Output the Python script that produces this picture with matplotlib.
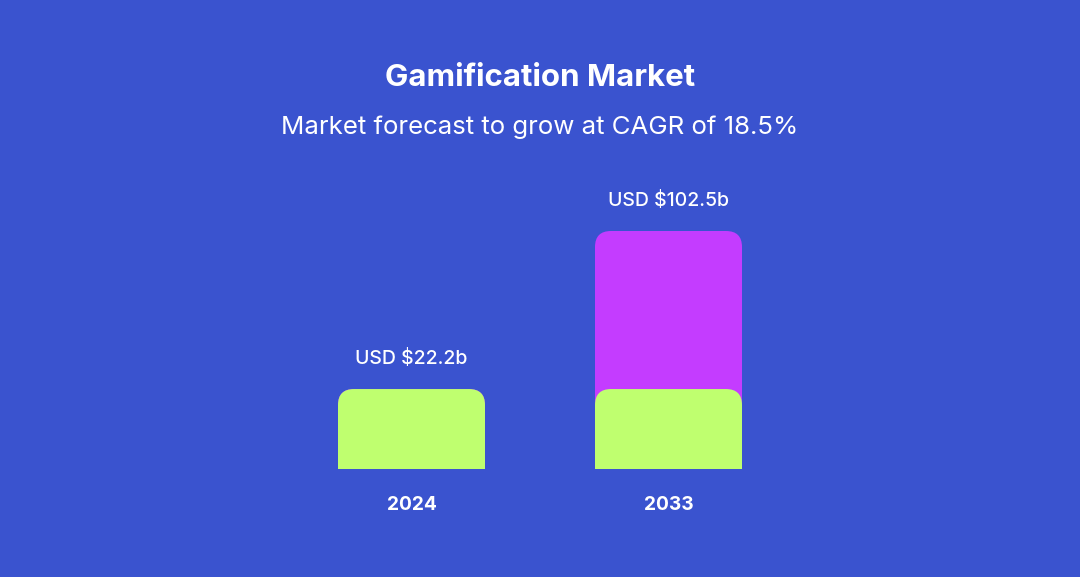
import matplotlib
matplotlib.use("Agg")
import matplotlib.pyplot as plt
import numpy as np
from matplotlib.path import Path
from matplotlib.patches import PathPatch
from matplotlib.transforms import IdentityTransform

### Data ###
years = ["2024", "2033"]
base_values = [22.2, 22.2]        # green part (2024 market size)
total_values = [22.2, 102.5]      # full bar height
value_labels = ["USD $22.2b", "USD $102.5b"]

title = "Gamification Market"
subtitle = "Market forecast to grow at CAGR of 18.5%"

### Style ###
bg = "#3a53cf"
green = "#bfff6f"
purple = "#c43cff"
font = "Inter"
power = 0.713   # compressed value axis, like the original graphic


def rounded_top(fig, bar, color, radius=16):
    # replace a bar by a path with rounded top corners (pixel coords)
    bb = bar.get_window_extent()
    x0, y0, x1, y1 = bb.x0, bb.y0, bb.x1, bb.y1
    r = min(radius, (y1 - y0), (x1 - x0) / 2)
    verts = [(x0, y0), (x0, y1 - r), (x0, y1), (x0 + r, y1),
             (x1 - r, y1), (x1, y1), (x1, y1 - r), (x1, y0), (x0, y0)]
    codes = [Path.MOVETO, Path.LINETO, Path.CURVE3, Path.CURVE3,
             Path.LINETO, Path.CURVE3, Path.CURVE3, Path.LINETO, Path.CLOSEPOLY]
    patch = PathPatch(Path(verts, codes), facecolor=color, edgecolor="none",
                      transform=IdentityTransform(), zorder=bar.get_zorder())
    fig.add_artist(patch)
    bar.set_visible(False)


fig = plt.figure(figsize=(10.8, 5.77), dpi=100, facecolor=bg)

# axes spans pixel x 270..810, y 231..469 (from top)
ax = fig.add_axes([0.25, 108 / 577, 0.5, 238 / 577])
ax.set_facecolor(bg)
ax.set_yscale("function", functions=(lambda v: np.power(np.clip(v, 0, None), power),
                                     lambda v: np.power(np.clip(v, 0, None), 1 / power)))
ax.set_ylim(0, max(total_values))
ax.set_xlim(-0.5506, 1.5506)
for s in ax.spines.values():
    s.set_visible(False)
ax.set_xticks([])
ax.set_yticks([])

x = np.arange(len(years))
width = 0.572
top_bars = ax.bar(x, total_values, width=width, color=purple, zorder=2)
base_bars = ax.bar(x, base_values, width=width, color=green, zorder=3)

fig.canvas.draw()
for b in top_bars:
    rounded_top(fig, b, purple)
for b in base_bars:
    rounded_top(fig, b, green)

# value labels above bars
for xi, v, lab in zip(x, total_values, value_labels):
    ax.annotate(lab, (xi, v), xytext=(0, 22), textcoords="offset points",
                ha="center", va="center", color="white", fontsize=14,
                fontweight="medium", family=font, annotation_clip=False)

# year labels below bars
for xi, yr in zip(x, years):
    ax.annotate(yr, (xi, 0), xytext=(0, -26), textcoords="offset points",
                ha="center", va="center", color="white", fontsize=13.8,
                fontweight="bold", family=font, annotation_clip=False)

fig.text(0.5, 1 - 78 / 577, title, ha="center", va="center", color="white",
         fontsize=22.5, fontweight="bold", family=font)
fig.text(0.5, 1 - 127 / 577, subtitle, ha="center", va="center", color="white",
         fontsize=18.6, family=font)

fig.savefig("out.png", dpi=100, facecolor=bg)
